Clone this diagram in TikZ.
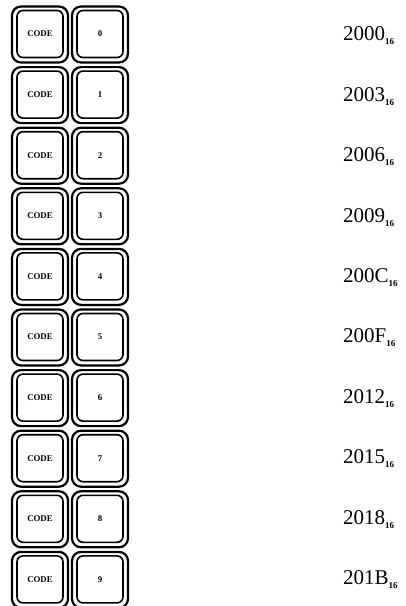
\documentclass[tikz,border=0pt]{standalone}
\usepackage{fontspec}
\setmainfont{Liberation Serif}
\begin{document}
\begin{tikzpicture}[x=1pt,y=-1pt,
  keyouter/.style={draw, line width=2.2pt, rounded corners=9pt, minimum width=56pt, minimum height=56pt, inner sep=0pt},
  keyinner/.style={draw, line width=1.6pt, rounded corners=6pt, minimum width=46pt, minimum height=47pt, inner sep=0pt},
  keytext/.style={font=\fontsize{8.8}{9}\selectfont\bfseries},
  addr/.style={anchor=west, inner sep=0pt, font=\fontsize{21}{22}\selectfont}
]
\useasboundingbox (0,0) rectangle (406,606);
\foreach \i/\d/\a in {0/0/2000,1/1/2003,2/2/2006,3/3/2009,4/4/200C,5/5/200F,6/6/2012,7/7/2015,8/8/2018,9/9/201B}{
  \pgfmathsetmacro{\yk}{34.5+60.6*\i}
  \pgfmathsetmacro{\yl}{36+60.4*\i}
  \node[keyouter] (co\i) at (40,\yk) {};
  \node[keyinner] (ci\i) at (40,\yk-0.5) {};
  \node[keytext] (ct\i) at (ci\i) {CODE};
  \node[keyouter] (do\i) at (100,\yk) {};
  \node[keyinner] (di\i) at (100,\yk-0.5) {};
  \node[keytext] (dt\i) at (di\i) {\d};
  \node[addr] (lab\i) at (343,\yl) {\a\raisebox{-4pt}{\fontsize{9}{9}\selectfont\bfseries 16}};
}
\end{tikzpicture}
\end{document}
